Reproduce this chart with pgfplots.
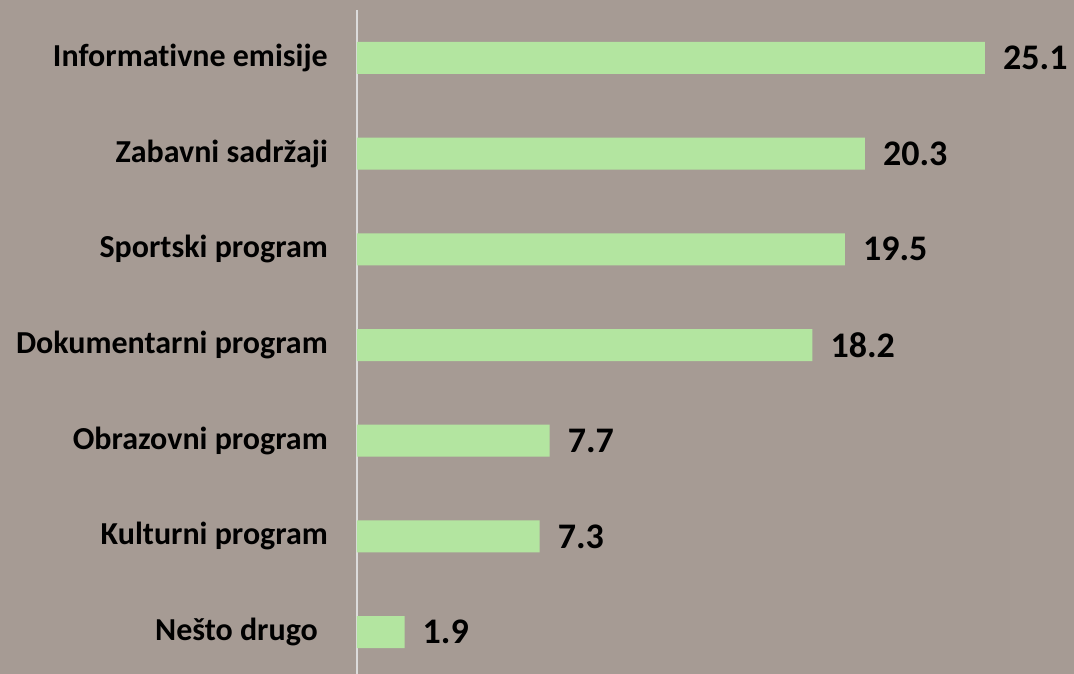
\documentclass[border=0pt]{standalone}
\usepackage{pgfplots}
\pgfplotsset{compat=1.18}
\usepackage{fontspec}
\setmainfont{Carlito}[Ligatures=NoCommon]
\definecolor{bg}{RGB}{166,155,148}
\definecolor{barc}{RGB}{179,229,160}
\definecolor{axc}{RGB}{220,220,220}
\begin{document}
\begin{tikzpicture}
\path[use as bounding box] (0,0) rectangle (1074pt,674pt);
\clip (0,0) rectangle (1074pt,674pt);
\fill[bg] (0,0) rectangle (1074pt,674pt);
\begin{axis}[
  at={(357pt,664pt)}, anchor=north west,
  scale only axis,
  width=717pt, height=670pt,
  xmin=0, xmax=28.66,
  ymin=-0.5, ymax=6.5,
  y dir=reverse,
  axis x line=none,
  axis y line=left,
  axis line style={-, draw=axc, line width=2pt},
  ytick={0,1,2,3,4,5,6},
  yticklabels={Informativne emisije,Zabavni sadržaji,Sportski program,Dokumentarni program,Obrazovni program,Kulturni program,{Nešto drugo\rule{10pt}{0pt}}},
  major tick length=0pt,
  yticklabel style={anchor=east, inner sep=0pt, xshift=-29pt, font=\fontsize{32}{38}\selectfont\bfseries},
  xbar, bar width=32pt,
  nodes near coords,
  nodes near coords style={anchor=west, inner sep=0pt, xshift=18pt, font=\fontsize{36}{42}\selectfont\bfseries, /pgf/number format/fixed, /pgf/number format/precision=1, /pgf/number format/fixed zerofill},
  /pgf/number format/assume math mode=true,
]
\addplot[fill=barc, draw=none] coordinates {(25.1,0) (20.3,1) (19.5,2) (18.2,3) (7.7,4) (7.3,5) (1.9,6)};
\end{axis}
\end{tikzpicture}
\end{document}
